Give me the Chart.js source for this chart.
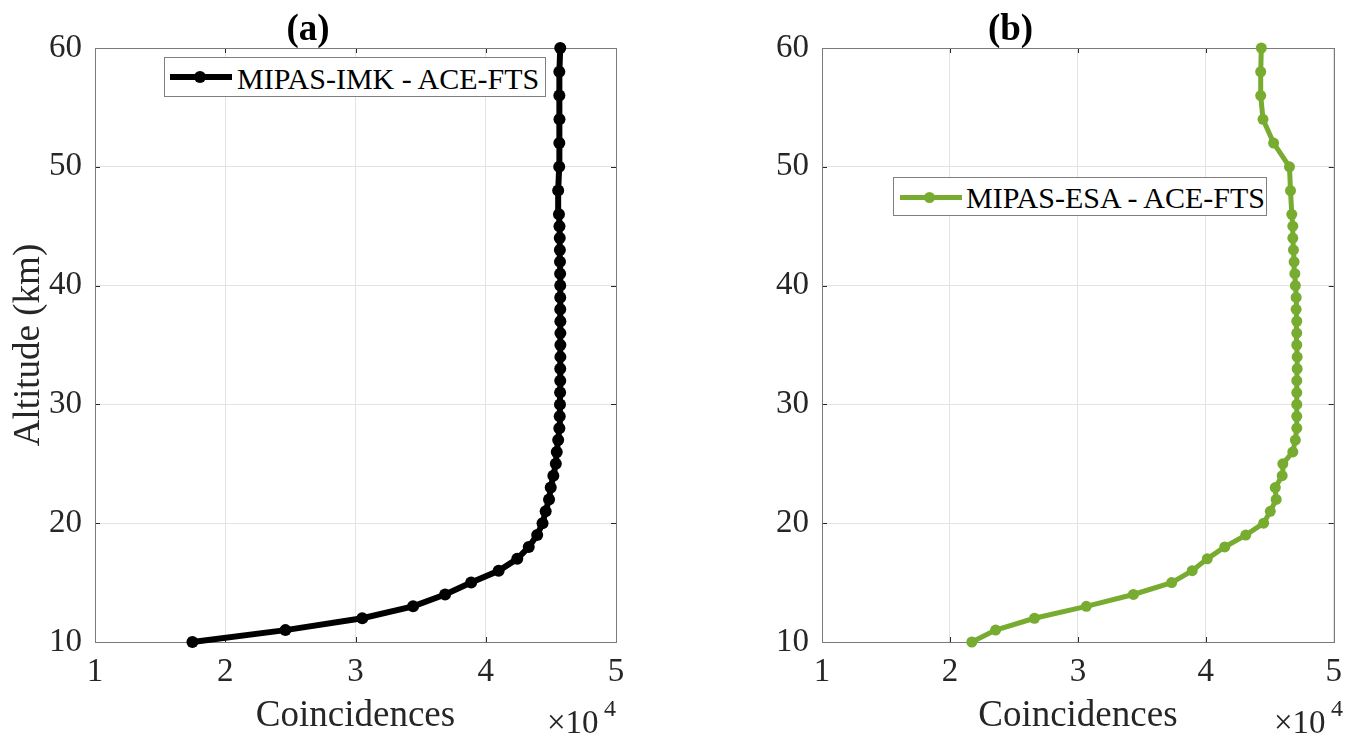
<!DOCTYPE html>
<html><head><meta charset="utf-8">
<script src="https://cdn.jsdelivr.net/npm/chart.js@4/dist/chart.umd.min.js"></script>
<style>
html,body{margin:0;padding:0;background:#fff;}
body{width:1353px;height:734px;position:relative;overflow:hidden;font-family:"Liberation Serif","Times New Roman",serif;}
canvas{position:absolute;top:0;}
.t{position:absolute;white-space:nowrap;color:#262626;line-height:1;}
.lg{position:absolute;box-sizing:border-box;border:1px solid #7f7f7f;background:#fff;}
.ll{position:absolute;}
.ld{position:absolute;border-radius:50%;}
.lt{position:absolute;white-space:nowrap;color:#000;font-size:30px;line-height:30px;}
</style></head><body>
<canvas id="ca" width="676" height="734" style="left:0px"></canvas>
<canvas id="cb" width="677" height="734" style="left:676px"></canvas>

<div class="lg" style="left:164px;top:57px;width:382px;height:40px"></div>
<div class="ll" style="left:170px;top:74px;width:62px;height:6px;background:#000"></div>
<div class="ld" style="left:194px;top:71px;width:12px;height:12px;background:#000"></div>
<div class="lt" id="legA" style="left:237px;top:64px"></div>

<div class="lg" style="left:893px;top:177px;width:374px;height:39px"></div>
<div class="ll" style="left:900px;top:194.5px;width:62px;height:5px;background:#77ac30"></div>
<div class="ld" style="left:924px;top:191.5px;width:11px;height:11px;background:#77ac30"></div>
<div class="lt" id="legB" style="left:966px;top:183px"></div>

<div class="t" style="left:547px;top:706px;font-size:33px">×10</div>
<div class="t" style="left:604px;top:696px;font-size:24px">4</div>
<div class="t" style="left:1274px;top:706px;font-size:33px">×10</div>
<div class="t" style="left:1331px;top:696px;font-size:24px">4</div>

<script>
// ---- data ----
const altitudes = [10,11,12,13,14,15,16,17,18,19,20,21,22,23,24,25,26,27,28,29,30,31,32,33,34,35,36,37,38,39,40,41,42,43,44,45,46,48,50,52,54,56,58,60];
const coincImk = [17480,24620,30520,34420,36880,38880,40990,42420,43300,43950,44360,44600,44860,44990,45190,45380,45450,45560,45650,45680,45700,45710,45720,45720,45730,45730,45730,45730,45720,45720,45720,45710,45700,45690,45680,45660,45620,45560,45640,45650,45660,45650,45650,45720];
const coincEsa = [21710,23570,26610,30660,34340,37330,38940,40110,41480,43120,44520,45040,45500,45430,45970,46020,46800,47000,47110,47110,47110,47110,47110,47140,47140,47110,47110,47110,47060,47060,47000,46960,46900,46850,46800,46800,46720,46620,46540,45300,44470,44290,44290,44340];
const xTicks = [1,2,3,4,5];          // in units of 10^4
const yTicks = [10,20,30,40,50,60];
const seriesNames = ['MIPAS-IMK - ACE-FTS','MIPAS-ESA - ACE-FTS'];
const panelTitles = ['(a)','(b)'];
const xTitle = 'Coincidences';
const yTitle = 'Altitude (km)';

document.getElementById('legA').textContent = seriesNames[0];
document.getElementById('legB').textContent = seriesNames[1];

const FONT = '"Liberation Serif","Times New Roman",serif';
Chart.defaults.font.family = FONT;
Chart.defaults.color = '#262626';

const boxPlugin = {
  id: 'matlabBox',
  beforeDatasetsDraw(chart) {
    const {ctx, chartArea: a} = chart;
    const x = chart.scales.x, y = chart.scales.y;
    const tl = 5;
    ctx.save();
    ctx.strokeStyle = '#262626';
    ctx.lineWidth = 1;
    ctx.beginPath();
    x.ticks.forEach(t => {
      const px = Math.round(x.getPixelForValue(t.value)) + 0.5;
      ctx.moveTo(px, a.bottom); ctx.lineTo(px, a.bottom - tl);
      ctx.moveTo(px, a.top); ctx.lineTo(px, a.top + tl);
    });
    y.ticks.forEach(t => {
      const py = Math.round(y.getPixelForValue(t.value)) + 0.5;
      ctx.moveTo(a.left, py); ctx.lineTo(a.left + tl, py);
      ctx.moveTo(a.right, py); ctx.lineTo(a.right - tl, py);
    });
    ctx.stroke();
    ctx.strokeStyle = '#7a7a7a';
    ctx.strokeRect(Math.round(a.left) + 0.5, Math.round(a.top) + 0.5, Math.round(a.right - a.left), Math.round(a.bottom - a.top));
    ctx.restore();
  }
};

function makeChart(id, values, color, lw, pr, title, yWidth, padRight, showYTitle, name) {
  const data = altitudes.map((alt, i) => ({x: values[i], y: alt}));
  return new Chart(document.getElementById(id), {
    type: 'scatter',
    data: { datasets: [{
      label: name, data, showLine: true, borderColor: color, backgroundColor: color,
      borderWidth: lw, pointRadius: pr, pointHoverRadius: pr, pointBorderWidth: 0,
      tension: 0, clip: false
    }]},
    options: {
      responsive: false, animation: false, devicePixelRatio: 1,
      layout: { padding: {left: 0, right: padRight, top: 0, bottom: 0} },
      plugins: {
        legend: {display: false}, tooltip: {enabled: false},
        title: { display: true, text: title, color: '#000',
          font: {size: 37, weight: 'bold', lineHeight: 0.9}, padding: {top: 14, bottom: 0.7} }
      },
      scales: {
        x: {
          type: 'linear', min: xTicks[0] * 1e4, max: xTicks[xTicks.length - 1] * 1e4,
          afterBuildTicks: s => { s.ticks = xTicks.map(v => ({value: v * 1e4})); },
          afterFit: s => { s.height = 92; },
          grid: {color: '#e3e3e3', drawTicks: false},
          border: {display: false},
          ticks: {font: {size: 33, lineHeight: 1.2}, padding: 11, color: '#262626',
            maxRotation: 0, autoSkip: false, callback: v => String(v / 1e4)},
          title: {display: true, text: xTitle, color: '#262626',
            font: {size: 37, lineHeight: 1}, padding: {top: 0, bottom: -1}}
        },
        y: {
          type: 'linear', min: yTicks[0], max: yTicks[yTicks.length - 1],
          afterBuildTicks: s => { s.ticks = yTicks.map(v => ({value: v})); },
          afterFit: s => { s.width = yWidth; },
          grid: {color: '#e3e3e3', drawTicks: false},
          border: {display: false},
          ticks: {font: {size: 33, lineHeight: 1.2}, padding: 13, color: '#262626', autoSkip: false},
          title: {display: showYTitle, text: yTitle, color: '#262626',
            font: {size: 37, lineHeight: 1}, padding: {top: 11, bottom: 0}}
        }
      }
    },
    plugins: [boxPlugin]
  });
}

makeChart('ca', coincImk, '#000000', 6, 6, panelTitles[0], 95, 60, true, seriesNames[0]);
makeChart('cb', coincEsa, '#77ac30', 5, 5.5, panelTitles[1], 146, 8, false, seriesNames[1]);
</script>
</body></html>
